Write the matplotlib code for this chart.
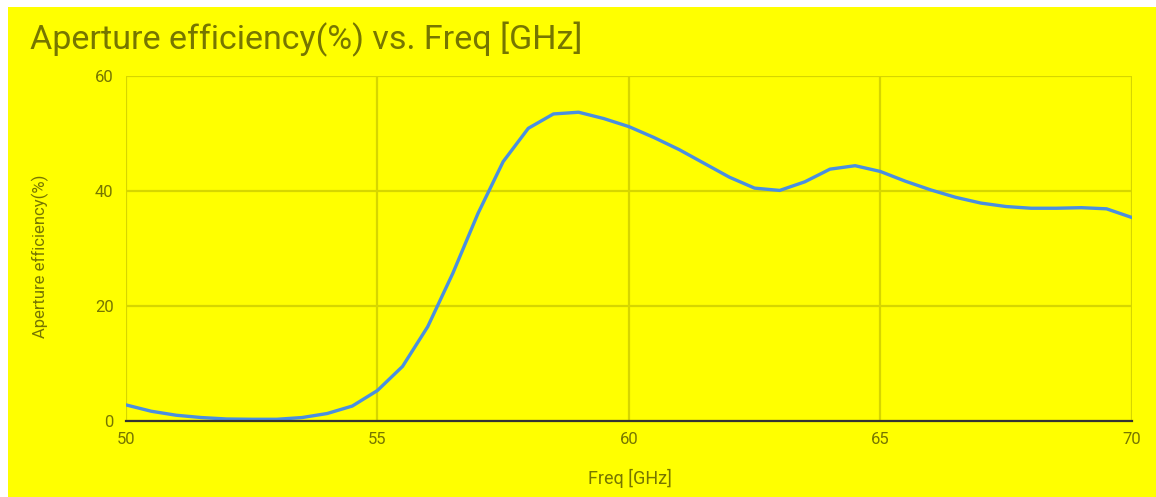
import matplotlib
matplotlib.use("Agg")
import matplotlib.pyplot as plt
from matplotlib.patches import Rectangle

plt.rcParams['font.family'] = ['Roboto', 'DejaVu Sans']

freq_ghz = [50.0, 50.5, 51.0, 51.5, 52.0, 52.5, 53.0, 53.5, 54.0, 54.5,
            55.0, 55.5, 56.0, 56.5, 57.0, 57.5, 58.0, 58.5, 59.0, 59.5,
            60.0, 60.5, 61.0, 61.5, 62.0, 62.5, 63.0, 63.5, 64.0, 64.5,
            65.0, 65.5, 66.0, 66.5, 67.0, 67.5, 68.0, 68.5, 69.0, 69.5, 70.0]
efficiency = [2.8, 1.7, 1.0, 0.6, 0.35, 0.3, 0.3, 0.6, 1.3, 2.6,
              5.3, 9.5, 16.4, 25.7, 36.1, 45.1, 50.9, 53.4, 53.7, 52.6,
              51.2, 49.3, 47.2, 44.8, 42.4, 40.5, 40.1, 41.6, 43.8, 44.4,
              43.4, 41.7, 40.2, 38.9, 37.9, 37.3, 37.0, 37.0, 37.1, 36.9, 35.4]
x_ticks = [50, 55, 60, 65, 70]
y_ticks = [0, 20, 40, 60]

title = "Aperture efficiency(%) vs. Freq [GHz]"
x_label = "Freq [GHz]"
y_label = "Aperture efficiency(%)"

bg = "#ffff00"
grid_col = "#d6d600"
text_col = "#767600"
line_col = "#4a8fe0"

W, H = 1156, 497
fig = plt.figure(figsize=(W / 100, H / 100), dpi=100)
fig.patch.set_facecolor("white")
fig.patches.append(Rectangle((8 / W, 0), 1 - 8 / W, 1 - 7 / H,
                             transform=fig.transFigure, facecolor=bg,
                             edgecolor="none", zorder=-10))

left_px, right_px, top_px, bottom_px = 126, 1131.7, 76, 421
ax = fig.add_axes([left_px / W, 1 - bottom_px / H,
                   (right_px - left_px) / W, (bottom_px - top_px) / H])
ax.set_facecolor(bg)
ax.plot(freq_ghz, efficiency, color=line_col, lw=2.4, solid_joinstyle="round", zorder=3)

ax.set_xlim(50, 70)
ax.set_ylim(0, 60)
ax.set_xticks(x_ticks)
ax.set_yticks(y_ticks)
ax.grid(True, color=grid_col, lw=1.6)
ax.set_axisbelow(True)
for side in ("left", "top", "right"):
    ax.spines[side].set_visible(False)
ax.spines["bottom"].set_color("#333333")
ax.spines["bottom"].set_linewidth(1.6)
ax.spines["bottom"].set_zorder(4)
ax.tick_params(length=0, colors=text_col, labelsize=12)
ax.tick_params(axis="y", pad=9)
ax.tick_params(axis="x", pad=8)

ax.set_xlabel(x_label, color=text_col, fontsize=13)
ax.set_ylabel(y_label, color=text_col, fontsize=12)
plot_w = right_px - left_px
plot_h = bottom_px - top_px
ax.xaxis.set_label_coords((630 - left_px) / plot_w, (bottom_px - 478) / plot_h)
ax.xaxis.label.set_va("center")
ax.yaxis.set_label_coords((40 - left_px) / plot_w, (bottom_px - 256) / plot_h)
ax.yaxis.label.set_va("center")

fig.text(30 / W, 1 - 49 / H, title, color=text_col, fontsize=24.5,
         ha="left", va="baseline")

fig.savefig("out.png", dpi=100, facecolor=fig.get_facecolor())
